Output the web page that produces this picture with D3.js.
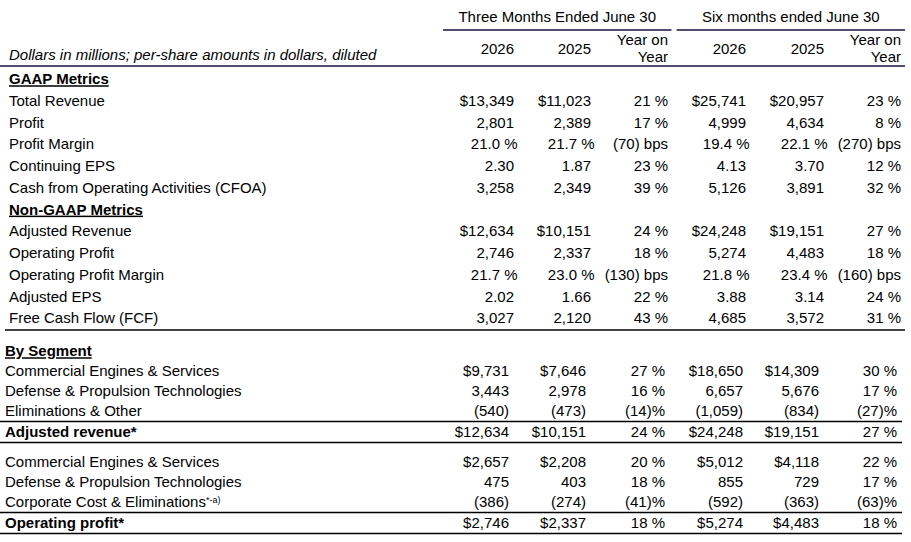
<!DOCTYPE html>
<html><head><meta charset="utf-8">
<script src="https://cdn.jsdelivr.net/npm/d3@7/dist/d3.min.js"></script>
<style>
html,body{margin:0;padding:0;background:#fff;}
svg{display:block;font-family:"Liberation Sans",Arial,sans-serif;}
</style></head>
<body>
<svg id="t" width="911" height="542"></svg>
<script>
// ---------- DATA ----------
const periods = ["Three Months Ended June 30", "Six months ended June 30"];
const columnKeys = ["q2026", "q2025", "qYoY", "h2026", "h2025", "hYoY"];
const columnHeaders = [["2026"], ["2025"], ["Year on", "Year"], ["2026"], ["2025"], ["Year on", "Year"]];
const unitsNote = "Dollars in millions; per-share amounts in dollars, diluted";

const gaapTitle = "GAAP Metrics";
const gaapLabels = ["Total Revenue", "Profit", "Profit Margin", "Continuing EPS", "Cash from Operating Activities (CFOA)"];
const gaapQ2026 = ["$13,349", "2,801", "21.0 %", "2.30", "3,258"];
const gaapQ2025 = ["$11,023", "2,389", "21.7 %", "1.87", "2,349"];
const gaapQYoY  = ["21 %", "17 %", "(70) bps", "23 %", "39 %"];
const gaapH2026 = ["$25,741", "4,999", "19.4 %", "4.13", "5,126"];
const gaapH2025 = ["$20,957", "4,634", "22.1 %", "3.70", "3,891"];
const gaapHYoY  = ["23 %", "8 %", "(270) bps", "12 %", "32 %"];

const nonGaapTitle = "Non-GAAP Metrics";
const nonGaapLabels = ["Adjusted Revenue", "Operating Profit", "Operating Profit Margin", "Adjusted EPS", "Free Cash Flow (FCF)"];
const nonGaapQ2026 = ["$12,634", "2,746", "21.7 %", "2.02", "3,027"];
const nonGaapQ2025 = ["$10,151", "2,337", "23.0 %", "1.66", "2,120"];
const nonGaapQYoY  = ["24 %", "18 %", "(130) bps", "22 %", "43 %"];
const nonGaapH2026 = ["$24,248", "5,274", "21.8 %", "3.88", "4,685"];
const nonGaapH2025 = ["$19,151", "4,483", "23.4 %", "3.14", "3,572"];
const nonGaapHYoY  = ["27 %", "18 %", "(160) bps", "24 %", "31 %"];

const segmentTitle = "By Segment";
const revenueLabels = ["Commercial Engines & Services", "Defense & Propulsion Technologies", "Eliminations & Other", "Adjusted revenue*"];
const revenueQ2026 = ["$9,731", "3,443", "(540)", "$12,634"];
const revenueQ2025 = ["$7,646", "2,978", "(473)", "$10,151"];
const revenueQYoY  = ["27 %", "16 %", "(14)%", "24 %"];
const revenueH2026 = ["$18,650", "6,657", "(1,059)", "$24,248"];
const revenueH2025 = ["$14,309", "5,676", "(834)", "$19,151"];
const revenueHYoY  = ["30 %", "17 %", "(27)%", "27 %"];

const profitLabels = ["Commercial Engines & Services", "Defense & Propulsion Technologies", "Corporate Cost & Eliminations", "Operating profit*"];
const profitLabelNotes = ["", "", "*-a)", ""];
const profitQ2026 = ["$2,657", "475", "(386)", "$2,746"];
const profitQ2025 = ["$2,208", "403", "(274)", "$2,337"];
const profitQYoY  = ["20 %", "18 %", "(41)%", "18 %"];
const profitH2026 = ["$5,012", "855", "(592)", "$5,274"];
const profitH2025 = ["$4,118", "729", "(363)", "$4,483"];
const profitHYoY  = ["22 %", "17 %", "(63)%", "18 %"];

// ---------- LAYOUT ----------
const svg = d3.select("#t");
const FS = 15;
const navy = "#14143c";

// columns
const xTop = d3.scaleOrdinal().domain(columnKeys).range([514, 591, 668, 746, 824, 901]);
const xBot = d3.scaleOrdinal().domain(columnKeys).range([509, 586, 665, 743, 819, 897]);
const yoyKeys = new Set(["qYoY", "hYoY"]);
const pctShift = (k, v) => (!yoyKeys.has(k) && /%$/.test(v)) ? 3.5 : 0;

// header
const xPeriod = d3.scaleBand().domain(periods).range([443, 905]).paddingInner(0.022);
const gHead = svg.append("g");
gHead.selectAll("text.period").data(periods).join("text")
  .attr("x", d => xPeriod(d) + xPeriod.bandwidth() / 2).attr("y", 17).attr("dy", "0.35em")
  .attr("text-anchor", "middle").attr("font-size", 15).text(d => d);
gHead.selectAll("line.period").data(periods).join("line")
  .attr("x1", d => xPeriod(d)).attr("x2", d => xPeriod(d) + xPeriod.bandwidth())
  .attr("y1", 30).attr("y2", 30).attr("stroke", navy).attr("stroke-width", 1.5);

columnKeys.forEach((k, i) => {
  const lines = columnHeaders[i];
  if (lines.length === 1) {
    gHead.append("text").attr("text-anchor", "end").attr("font-size", FS)
      .attr("x", xTop(k)).attr("y", 49).attr("dy", "0.35em").text(lines[0]);
  } else {
    lines.forEach((s, j) => gHead.append("text").attr("text-anchor", "end").attr("font-size", FS)
      .attr("x", xTop(k)).attr("y", 40 + j * 17).attr("dy", "0.35em").text(s));
  }
});
gHead.append("text").attr("x", 9).attr("y", 55).attr("dy", "0.35em")
  .attr("font-size", FS).attr("font-style", "italic").text(unitsNote);
gHead.append("line").attr("x1", 0).attr("x2", 905).attr("y1", 66).attr("y2", 66)
  .attr("stroke", navy).attr("stroke-width", 1.5);

// top block rows
const yTop = d3.scaleLinear().domain([0, 11]).range([79, 318]);
const topSections = [
  {title: gaapTitle, labels: gaapLabels, cols: [gaapQ2026, gaapQ2025, gaapQYoY, gaapH2026, gaapH2025, gaapHYoY]},
  {title: nonGaapTitle, labels: nonGaapLabels, cols: [nonGaapQ2026, nonGaapQ2025, nonGaapQYoY, nonGaapH2026, nonGaapH2025, nonGaapHYoY]}
];
const gTop = svg.append("g");
let idx = 0;
topSections.forEach(sec => {
  gTop.append("text").attr("x", 9).attr("y", yTop(idx)).attr("dy", "0.35em")
    .attr("font-size", FS).attr("font-weight", "bold").style("text-decoration", "underline").text(sec.title);
  idx++;
  sec.labels.forEach((lab, r) => {
    const yy = yTop(idx);
    gTop.append("text").attr("x", 9).attr("y", yy).attr("dy", "0.35em").attr("font-size", FS).text(lab);
    columnKeys.forEach((k, c) => {
      const v = sec.cols[c][r];
      gTop.append("text").attr("x", xTop(k) + pctShift(k, v)).attr("y", yy).attr("dy", "0.35em")
        .attr("text-anchor", "end").attr("font-size", FS).text(v);
    });
    idx++;
  });
});
gTop.append("line").attr("x1", 5).attr("x2", 905).attr("y1", 330).attr("y2", 330)
  .attr("stroke", "#000").attr("stroke-width", 1.5);

// bottom block
const yBot = d3.scaleLinear().domain([0, 1]).range([351, 371]);
const gBot = svg.append("g");
gBot.append("text").attr("x", 5).attr("y", yBot(0)).attr("dy", "0.35em")
  .attr("font-size", FS).attr("font-weight", "bold").style("text-decoration", "underline").text(segmentTitle);

const botGroups = [
  {labels: revenueLabels, notes: ["", "", "", ""], cols: [revenueQ2026, revenueQ2025, revenueQYoY, revenueH2026, revenueH2025, revenueHYoY], start: 1},
  {labels: profitLabels, notes: profitLabelNotes, cols: [profitQ2026, profitQ2025, profitQYoY, profitH2026, profitH2025, profitHYoY], start: 5.55}
];
botGroups.forEach(g => {
  g.labels.forEach((lab, r) => {
    const yy = yBot(g.start + r) + (r === 3 ? 1 : 0);
    const isTotal = r === g.labels.length - 1;
    const t = gBot.append("text").attr("x", 5).attr("y", yy).attr("dy", "0.35em").attr("font-size", FS)
      .attr("font-weight", isTotal ? "bold" : "normal");
    t.append("tspan").text(lab);
    if (g.notes[r]) t.append("tspan").attr("font-size", 9).attr("dy", "-0.45em").text(g.notes[r]);
    columnKeys.forEach((k, c) => {
      const v = g.cols[c][r];
      gBot.append("text").attr("x", xBot(k) + pctShift(k, v)).attr("y", yy).attr("dy", "0.35em")
        .attr("text-anchor", "end").attr("font-size", FS).text(v);
    });
    if (r >= 2) {
      const ly = yy + 10.5;
      gBot.append("line").attr("x1", 0).attr("x2", 902).attr("y1", ly).attr("y2", ly)
        .attr("stroke", "#000").attr("stroke-width", 1.5);
    }
  });
});
</script>
</body></html>
